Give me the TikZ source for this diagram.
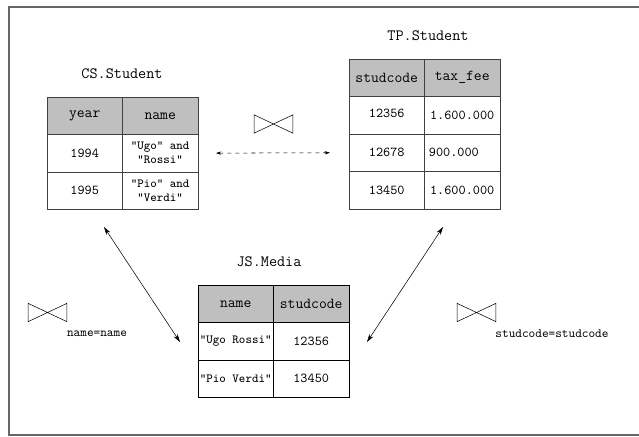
\documentclass[tikz,border=0pt]{standalone}
\usepackage{fontspec}
\usetikzlibrary{arrows.meta,positioning}
\tikzset{
    %Define standard arrow tip
    >={Stealth[length=6pt,width=3.5pt]},
    %Define style for table cells
    cell/.style={
           rectangle,
           draw=black!75, thin,
           minimum width=56.6pt,
           minimum height=28.1pt,
           inner sep=1pt,
           outer sep=0pt,
           align=center,
           font=\ttfamily\fontsize{10.2}{11}\selectfont},
    head/.style={
           cell,
           fill=black!25,
           font=\ttfamily\fontsize{11.4}{13}\selectfont},
    tabtitle/.style={font=\ttfamily\fontsize{11.8}{13}\selectfont},
    cond/.style={font=\ttfamily\fontsize{9.5}{11}\selectfont},
    % Define join symbol
    joinsym/.pic={
           \draw[thin] (-14.6pt,-6.9pt) -- (14.6pt,6.9pt) -- (14.6pt,-6.9pt)
                 -- (-14.6pt,6.9pt) -- cycle;},
    % Define arrow style
    pil/.style={
           <->,
           thin},
    pildash/.style={
           {Stealth[length=4pt,width=2.5pt]}-{Stealth[length=4pt,width=2.5pt]},
           thin,
           dashed,
           shorten <=13.5pt,
           shorten >=14.3pt}
}
\begin{document}
\begin{tikzpicture}[x=0.75pt,y=-0.75pt]
         \useasboundingbox (0,0) rectangle (639,436);
         %frame
         \draw[black!60, line width=1.2pt] (640,7) -- (9,7) -- (9,435) -- (640,435);
         %CS.Student
         \node[tabtitle] (cs) at (122,74) {CS.Student};
         \node[head, anchor=north west] (cs-h1) at (47,97) {year};
         \node[head, right=0pt of cs-h1] (cs-h2) {name};
         \node[cell, below=0pt of cs-h1] (cs-11) {1994};
         \node[cell, below=0pt of cs-h2, font=\ttfamily\fontsize{9.3}{10.5}\selectfont] (cs-12) {"Ugo" and\\"Rossi"};
         \node[cell, below=0pt of cs-11] (cs-21) {1995};
         \node[cell, below=0pt of cs-12, font=\ttfamily\fontsize{9.3}{10.5}\selectfont] (cs-22) {"Pio" and\\"Verdi"};
         %TP.Student
         \node[tabtitle] (tp) at (428,36) {TP.Student};
         \node[head, anchor=north west] (tp-h1) at (349,59) {studcode};
         \node[head, right=0pt of tp-h1] (tp-h2) {tax\_fee};
         \node[cell, below=0pt of tp-h1] (tp-11) {\raisebox{3pt}{12356}};
         \node[cell, below=0pt of tp-h2] (tp-12) {\raisebox{-2pt}{1.600.000}};
         \node[cell, below=0pt of tp-11] (tp-21) {12678};
         \node[cell, below=0pt of tp-12] (tp-22) {\makebox[50pt][l]{900.000}};
         \node[cell, below=0pt of tp-21] (tp-31) {13450};
         \node[cell, below=0pt of tp-22] (tp-32) {1.600.000};
         %JS.Media
         \node[tabtitle] (js) at (269,262) {JS.Media};
         \node[head, draw=black, anchor=north west] (js-h1) at (198,285) {name};
         \node[head, draw=black, right=0pt of js-h1] (js-h2) {studcode};
         \node[cell, draw=black, below=0pt of js-h1, font=\ttfamily\fontsize{9.3}{10.5}\selectfont] (js-11) {"Ugo Rossi"};
         \node[cell, draw=black, below=0pt of js-h2] (js-12) {12356};
         \node[cell, draw=black, below=0pt of js-11, font=\ttfamily\fontsize{9.3}{10.5}\selectfont] (js-21) {"Pio Verdi"};
         \node[cell, draw=black, below=0pt of js-12] (js-22) {13450};
         %joins
         \pic at (273.5,124) {joinsym};
         \pic at (47.5,312.5) {joinsym};
         \pic at (476.5,312.5) {joinsym};
         \node[cond] (cond-name) at (97,334) {name=name};
         \node[cond] (cond-code) at (552,334) {studcode=studcode};
         %arrows
         \coordinate (cs-end) at (104,227);
         \coordinate (tp-end) at (443,227);
         \coordinate (js-left) at (180,342);
         \coordinate (js-right) at (367,342);
         \draw[pildash] (cs-12.east) -- (tp-21.west);
         \draw[pil] (cs-end) -- (js-left);
         \draw[pil] (tp-end) -- (js-right);
\end{tikzpicture}
\end{document}
